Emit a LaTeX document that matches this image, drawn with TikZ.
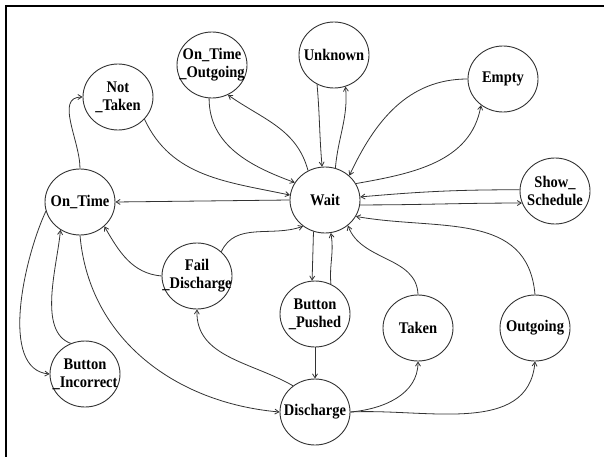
\documentclass[tikz,border=0pt]{standalone}
\usepackage{fontspec}
\setmainfont{Liberation Serif}
\usetikzlibrary{shapes.geometric,arrows.meta}
\begin{document}
\begin{tikzpicture}[x=1pt,y=1pt,
  state/.style={draw=black!80,line width=0.9pt,ellipse,minimum width=70pt,minimum height=66pt,inner sep=0pt},
  statetext/.style={align=center,inner sep=0pt,yscale=1.12,transform shape,font=\fontsize{14.5}{16}\selectfont\bfseries},
  conn/.style={draw=black!80,line width=0.8pt,-{Straight Barb[length=4pt,width=5pt]}},
]
\path[use as bounding box] (0,0) rectangle (604,-457);
\draw[line width=2.2pt] (6,-457) -- (6,-6) -- (604,-6);

\node[state,label={[statetext]center:{Wait}}] (wait) at (325,-200) {};
\node[state,label={[statetext]center:{On\_Time}}] (ontime) at (80,-202) {};
\node[state,label={[statetext]center:{Not\\\_Taken}}] (nottaken) at (118,-97) {};
\node[state,label={[statetext]center:{On\_Time\\\_Outgoing}}] (oto) at (212,-65) {};
\node[state,label={[statetext]center:{Unknown}}] (unknown) at (334,-55) {};
\node[state,label={[statetext]center:{Empty}}] (empty) at (503,-79) {};
\node[state,label={[statetext]center:{Show\_\\Schedule}}] (ss) at (555,-191) {};
\node[state,label={[statetext]center:{Fail\\\_Discharge}}] (fd) at (197,-276) {};
\node[state,label={[statetext]center:{Button\\\_Pushed}}] (bp) at (315,-314) {};
\node[state,label={[statetext]center:{Discharge}}] (dis) at (315,-412) {};
\node[state,label={[statetext]center:{Taken}}] (taken) at (418,-328) {};
\node[state,label={[statetext]center:{Outgoing}}] (outg) at (535,-328) {};
\node[state,label={[statetext]center:{Button\\\_Incorrect}}] (bi) at (85,-374) {};

\draw[conn] (ontime.north) to[out=90,in=180] (nottaken.west);
\draw[conn] (nottaken.-40) to[out=-65,in=168] (wait.172);
\draw[conn] (wait.west) -- (ontime.east);
\draw[conn] (oto.265) to[out=-90,in=160] (wait.150);
\draw[conn] (wait.120) to[out=105,in=-35] (oto.-62);
\draw[conn] (unknown.240) to[out=-85,in=95] (wait.95);
\draw[conn] (wait.72) to[out=85,in=-85] (unknown.-70);
\draw[conn] (empty.west) to[out=180,in=65] (wait.45);
\draw[conn] (wait.28) to[out=10,in=-100] (empty.-130);
\draw[conn] (ss.178) to[out=180,in=5] (wait.5);
\draw[conn] (wait.-8) to[out=0,in=180] (ss.200);
\draw[conn] (wait.250) -- (bp.95);
\draw[conn] (bp.62) to[out=95,in=-80] (wait.-80);
\draw[conn] (bp.south) -- (dis.north);
\draw[conn] (fd.45) to[out=65,in=200] (wait.-130);
\draw[conn] (fd.west) to[out=175,in=-60] (ontime.-45);
\draw[conn] (dis.130) to[out=150,in=-92] (fd.south);
\draw[conn] (ontime.south) to[out=-85,in=175] (dis.west);
\draw[conn] (ontime.195) to[out=245,in=175,looseness=0.8] (bi.west);
\draw[conn] (bi.115) to[out=160,in=-95,looseness=0.8] (ontime.-125);
\draw[conn] (dis.east) to[out=5,in=-90] (taken.south);
\draw[conn] (dis.east) to[out=3,in=-95] (outg.south);
\draw[conn] (taken.north) to[out=92,in=-70] (wait.-48);
\draw[conn] (outg.north) to[out=95,in=-10,looseness=1.1] (wait.-28);
\end{tikzpicture}
\end{document}
